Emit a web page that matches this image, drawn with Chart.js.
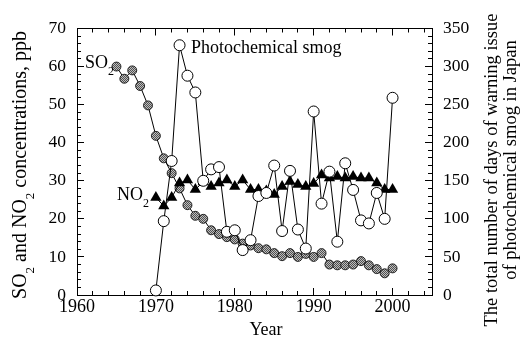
<!DOCTYPE html>
<html>
<head>
<meta charset="utf-8">
<script src="https://cdn.jsdelivr.net/npm/chart.js@4.4.1/dist/chart.umd.min.js"></script>
</head>
<body style="margin:0">
<canvas id="grafico" width="523" height="340"></canvas>
<script>
// values
var so2Years  = [1965, 1966, 1967, 1968, 1969, 1970, 1971, 1972, 1973, 1974, 1975, 1976, 1977, 1978, 1979, 1980, 1981, 1982,
                 1983, 1984, 1985, 1986, 1987, 1988, 1989, 1990, 1991, 1992, 1993, 1994, 1995, 1996, 1997, 1998, 1999, 2000];
var so2Values = [60.0, 56.8, 59.0, 54.9, 49.8, 41.8, 35.9, 32.0, 28.0, 23.6, 20.8, 20.0, 17.0, 16.0, 15.2, 14.6, 13.5, 13.0,
                 12.3, 12.0, 11.0, 10.2, 11.0, 10.0, 10.8, 10.0, 11.0, 8.0, 7.8, 7.8, 8.0, 8.9, 7.8, 6.8, 5.7, 7.0];

var no2Years  = [1970, 1971, 1972, 1973, 1974, 1975, 1976, 1977, 1978, 1979, 1980, 1981, 1982, 1983, 1984, 1985,
                 1986, 1987, 1988, 1989, 1990, 1991, 1992, 1993, 1994, 1995, 1996, 1997, 1998, 1999, 2000];
var no2Values = [25.6, 23.4, 25.6, 29.4, 30.2, 27.7, 29.7, 28.5, 29.4, 30.2, 28.5, 30.2, 27.7, 27.7, 27.3, 26.4,
                 28.5, 29.8, 29.0, 28.5, 29.3, 31.5, 30.7, 31.1, 30.7, 31.1, 30.7, 30.7, 29.4, 27.7, 27.7];

var smogYears = [1970, 1971, 1972, 1973, 1974, 1975, 1976, 1977, 1978, 1979, 1980, 1981, 1982, 1983, 1984, 1985,
                 1986, 1987, 1988, 1989, 1990, 1991, 1992, 1993, 1994, 1995, 1996, 1997, 1998, 1999, 2000];
var smogDays  = [6, 97, 176, 328, 288, 266, 150, 165, 168, 83, 85, 59, 72, 130, 134, 170,
                 84, 163, 86, 61, 241, 120, 162, 70, 173, 138, 98, 94, 134, 100, 259];

var xTicks    = [1960, 1970, 1980, 1990, 2000];
var ppbTicks  = [0, 10, 20, 30, 40, 50, 60, 70];
var dayTicks  = [0, 50, 100, 150, 200, 250, 300, 350];

var fam = '"Liberation Serif"';

function pairs(xs, ys) {
    return xs.map(function (x, i) { return {x: x, y: ys[i]}; });
}

// grey hatched fill for the SO2 dots
function hatchFill() {
    var c = document.createElement('canvas');
    c.width = 2; c.height = 2;
    var g = c.getContext('2d');
    g.fillStyle = '#bdbdbd';
    g.fillRect(0, 0, 2, 2);
    g.fillStyle = '#505050';
    g.fillRect(0, 0, 1, 1);
    g.fillRect(1, 1, 1, 1);
    return g.createPattern(c, 'repeat');
}

// draws a run of [text, isSubscript] pieces starting at x
function runText(ctx, parts, x, y, size) {
    parts.forEach(function (p) {
        ctx.font = (p[1] ? Math.round(size * 0.65) : size) + 'px ' + fam;
        ctx.fillText(p[0], x, p[1] ? y + size * 0.38 : y);
        x += ctx.measureText(p[0]).width;
    });
}
function runWidth(ctx, parts, size) {
    var w = 0;
    parts.forEach(function (p) {
        ctx.font = (p[1] ? Math.round(size * 0.65) : size) + 'px ' + fam;
        w += ctx.measureText(p[0]).width;
    });
    return w;
}

var textPlugin = {
    id: 'textPlugin',
    afterDraw: function (chart) {
        var ctx = chart.ctx;
        ctx.save();
        ctx.fillStyle = '#000';
        ctx.textAlign = 'left';
        ctx.textBaseline = 'alphabetic';

        runText(ctx, [['Photochemical smog', false]], 191, 53, 18);
        runText(ctx, [['SO', false], ['2', true]], 85, 68, 18);
        runText(ctx, [['NO', false], ['2', true]], 117, 200, 18);

        ctx.font = '18px ' + fam;
        ctx.textAlign = 'center';
        ctx.fillText('Year', 266, 335);
        ctx.textAlign = 'left';

        // left axis title with subscripts
        var parts = [['SO', false], ['2', true], [' and NO', false], ['2', true], [' concentrations, ppb', false]];
        var w = runWidth(ctx, parts, 20);
        ctx.save();
        ctx.translate(26, 165);
        ctx.rotate(-Math.PI / 2);
        runText(ctx, parts, -w / 2, 0, 20);
        ctx.restore();

        // right axis title, two lines
        ctx.font = '18.5px ' + fam;
        ctx.textAlign = 'center';
        ctx.save();
        ctx.translate(497, 170);
        ctx.rotate(-Math.PI / 2);
        ctx.fillText('The total number of days of warning issue', 0, 0);
        ctx.restore();
        ctx.save();
        ctx.translate(515.5, 160);
        ctx.rotate(-Math.PI / 2);
        ctx.fillText('of photochemical smog in Japan', 0, 0);
        ctx.restore();

        ctx.restore();
    }
};

function fixedTicks(list) {
    return function (scale) {
        scale.ticks = list.map(function (v) { return {value: v}; });
    };
}

// minor tick positions between the labelled ones
function minorTicks(from, to, step, major) {
    return function (scale) {
        var list = [];
        for (var v = from + step; v < to; v += step) {
            if (v % major !== 0) list.push({value: v});
        }
        scale.ticks = list;
    };
}

function plainNum(v) { return String(v); }
function noLabel() { return ''; }

// tick marks drawn by the scales themselves, pointing into the plot (negative length)
function inward(len) {
    return {display: true, drawOnChartArea: false, drawTicks: true, tickLength: -len,
            color: '#000', tickColor: '#000', tickWidth: 1, lineWidth: 1};
}

// an extra zero-size axis that only carries the short minor ticks
function minorAxis(axis, position, min, max, build) {
    return {
        type: 'linear', axis: axis, position: position, weight: -1,
        min: min, max: max,
        afterBuildTicks: build,
        afterFit: function (s) { if (axis === 'x') s.height = 0; else s.width = 0; },
        grid: inward(4),
        border: {display: false},
        ticks: {autoSkip: false, callback: noLabel, padding: 0}
    };
}

var myChart = new Chart(document.getElementById('grafico'), {
    type: 'line',
    data: {
        datasets: [{
            label: 'Photochemical smog',
            yAxisID: 'y2',
            data: pairs(smogYears, smogDays),
            borderColor: '#000',
            borderWidth: 1,
            pointStyle: 'circle',
            pointRadius: 5.5,
            pointBackgroundColor: '#fff',
            pointBorderColor: '#000',
            pointBorderWidth: 1,
            clip: false
        }, {
            label: 'NO2',
            yAxisID: 'y',
            data: pairs(no2Years, no2Values),
            borderColor: '#000',
            borderWidth: 1,
            pointStyle: 'triangle',
            pointRadius: 6.5,
            pointBackgroundColor: '#000',
            pointBorderColor: '#000',
            pointBorderWidth: 0,
            clip: false
        }, {
            label: 'SO2',
            yAxisID: 'y',
            data: pairs(so2Years, so2Values),
            borderColor: '#000',
            borderWidth: 1,
            pointStyle: 'circle',
            pointRadius: 4.5,
            pointBackgroundColor: hatchFill(),
            pointBorderColor: '#000',
            pointBorderWidth: 0.8,
            clip: false
        }]
    },
    options: {
        responsive: false,
        animation: false,
        layout: {padding: {top: 20, left: 0, right: 0, bottom: 0}},
        plugins: {legend: {display: false}, tooltip: {enabled: false}},
        scales: {
            x: {
                type: 'linear', weight: 0,
                min: 1960, max: 2005,
                afterBuildTicks: fixedTicks(xTicks),
                afterFit: function (s) { s.height = 45; },
                grid: inward(7),
                border: {display: true, color: '#000', width: 1},
                ticks: {color: '#000', font: {family: fam, size: 18}, padding: 8, maxRotation: 0,
                        autoSkip: false, callback: plainNum}
            },
            xMinor: minorAxis('x', 'bottom', 1960, 2005, minorTicks(1960, 2005, 2, 10)),
            // top frame line with its ticks
            xTop: {
                type: 'linear', position: 'top', axis: 'x', weight: 0,
                min: 1960, max: 2005,
                afterBuildTicks: fixedTicks(xTicks),
                afterFit: function (s) { s.height = 0; },
                grid: inward(7),
                border: {display: true, color: '#000', width: 1},
                ticks: {autoSkip: false, callback: noLabel, padding: 0}
            },
            xTopMinor: minorAxis('x', 'top', 1960, 2005, minorTicks(1960, 2005, 2, 10)),
            y: {
                type: 'linear', position: 'left', weight: 0,
                min: 0, max: 70,
                afterBuildTicks: fixedTicks(ppbTicks),
                afterFit: function (s) { s.width = 77; },
                grid: inward(7),
                border: {display: true, color: '#000', width: 1},
                ticks: {color: '#000', font: {family: fam, size: 17.5}, padding: 18,
                        autoSkip: false, callback: plainNum}
            },
            yMinor: minorAxis('y', 'left', 0, 70, minorTicks(0, 70, 2, 10)),
            y2: {
                type: 'linear', position: 'right', weight: 0,
                min: 0, max: 350,
                afterBuildTicks: fixedTicks(dayTicks),
                afterFit: function (s) { s.width = 91; },
                grid: inward(7),
                border: {display: true, color: '#000', width: 1},
                ticks: {color: '#000', font: {family: fam, size: 17.5}, padding: 18,
                        autoSkip: false, callback: plainNum}
            },
            y2Minor: minorAxis('y', 'right', 0, 350, minorTicks(0, 350, 10, 50))
        }
    },
    plugins: [textPlugin]
});
</script>
</body>
</html>
